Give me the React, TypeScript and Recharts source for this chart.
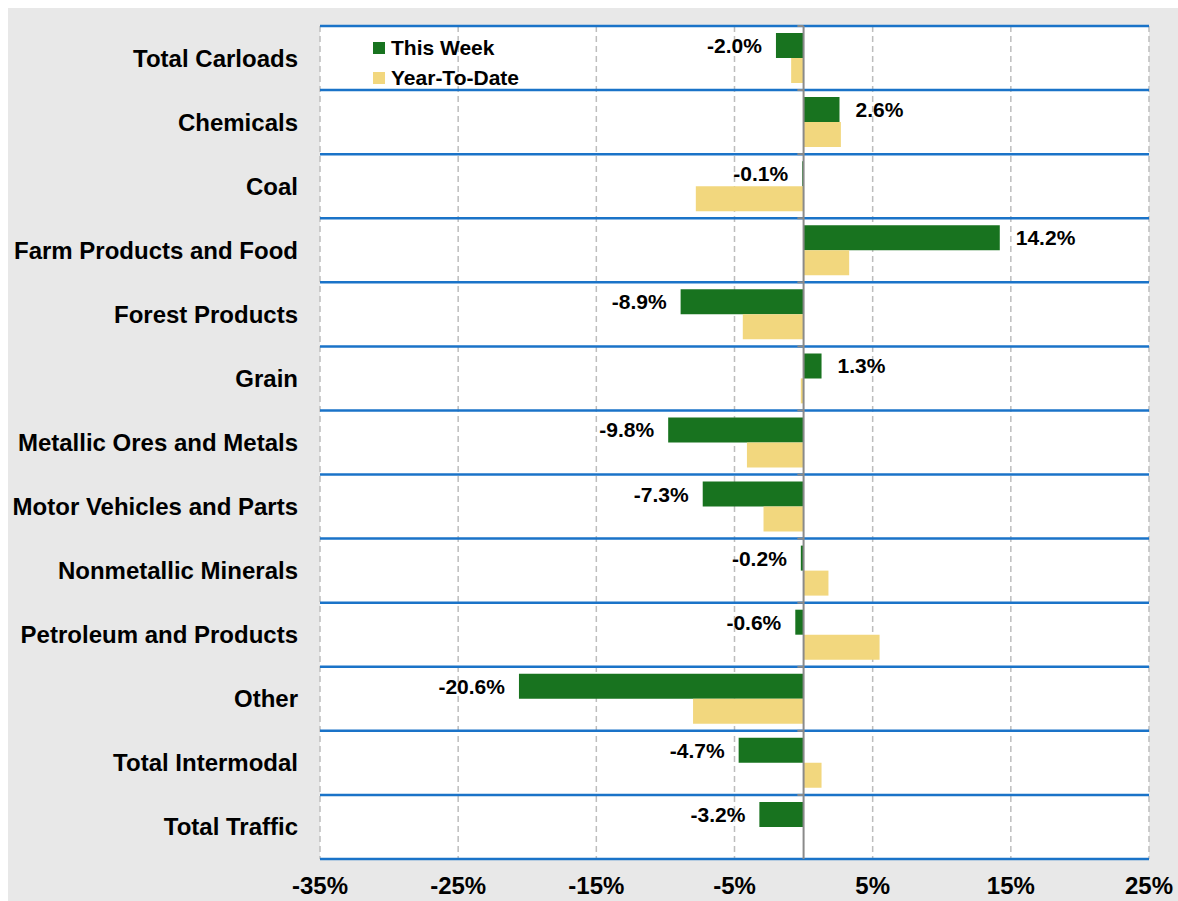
import React from "react";
import {
  BarChart,
  Bar,
  XAxis,
  YAxis,
  CartesianGrid,
  ReferenceLine,
  LabelList,
  Legend,
} from "recharts";

const categories = [
  "Total Carloads",
  "Chemicals",
  "Coal",
  "Farm Products and Food",
  "Forest Products",
  "Grain",
  "Metallic Ores and Metals",
  "Motor Vehicles and Parts",
  "Nonmetallic Minerals",
  "Petroleum and Products",
  "Other",
  "Total Intermodal",
  "Total Traffic",
];
const thisWeek = [-2.0, 2.6, -0.1, 14.2, -8.9, 1.3, -9.8, -7.3, -0.2, -0.6, -20.6, -4.7, -3.2];
const yearToDate = [-0.9, 2.7, -7.8, 3.3, -4.4, -0.2, -4.1, -2.9, 1.8, 5.5, -8.0, 1.3, 0];
const xTicks = [-35, -25, -15, -5, 5, 15, 25];

const GREEN = "#18731f";
const YELLOW = "#f2d77e";
const BLUE = "#1a73c8";
const FONT = "'Liberation Sans', Arial, Helvetica, sans-serif";

const data = categories.map((name, i) => ({
  name,
  week: thisWeek[i],
  ytd: yearToDate[i],
}));

const lastCat = categories[categories.length - 1];

const WeekLabel = (props: any) => {
  const { x, y, width, height, value } = props;
  const a = Number(x);
  const b = Number(x) + Number(width);
  const neg = value < 0;
  const end = neg ? Math.min(a, b) : Math.max(a, b);
  return (
    <text
      x={neg ? end - 14 : end + 16}
      y={Number(y) + Number(height) / 2}
      textAnchor={neg ? "end" : "start"}
      dominantBaseline="central"
      fontFamily={FONT}
      fontWeight="bold"
      fontSize={21}
      fill="#000"
    >
      {Number(value).toFixed(1)}%
    </text>
  );
};

const LegendBox = () => (
  <div style={{ fontFamily: FONT, fontWeight: "bold", fontSize: 21, color: "#000" }}>
    {[
      { label: "This Week", color: GREEN },
      { label: "Year-To-Date", color: YELLOW },
    ].map((it) => (
      <div key={it.label} style={{ display: "flex", alignItems: "center", height: 30 }}>
        <span style={{ width: 12, height: 12, background: it.color, marginRight: 6, display: "inline-block" }} />
        <span>{it.label}</span>
      </div>
    ))}
  </div>
);

export default function App() {
  return (
    <div
      style={{
        position: "fixed",
        left: 8,
        top: 8,
        width: 1170,
        height: 893,
        background: "#e8e8e8",
        overflow: "hidden",
      }}
    >
      <BarChart
        width={1170}
        height={893}
        data={data}
        layout="vertical"
        margin={{ top: 18, right: 29, bottom: 0, left: 0 }}
        barGap={0}
      >
        <CartesianGrid
          horizontal={false}
          fill="#ffffff"
          stroke="#bdbdbd"
          strokeDasharray="6 4"
          strokeWidth={1.5}
        />
        <XAxis
          type="number"
          domain={[-35, 25]}
          ticks={xTicks}
          tickFormatter={(v) => `${v}%`}
          axisLine={false}
          tickLine={false}
          tickSize={0}
          tickMargin={18}
          height={42}
          interval={0}
          tick={{ fill: "#000", fontSize: 24, fontWeight: "bold", fontFamily: FONT }}
        />
        <YAxis
          type="category"
          dataKey="name"
          width={312}
          axisLine={false}
          tickLine={false}
          tickSize={0}
          tickMargin={22}
          interval={0}
          tick={{ fill: "#000", fontSize: 24, fontWeight: "bold", fontFamily: FONT }}
        />
        {categories.map((c) => (
          <ReferenceLine key={`h${c}`} y={c} position="start" stroke={BLUE} strokeWidth={2.5} />
        ))}
        <ReferenceLine y={lastCat} position="end" stroke={BLUE} strokeWidth={2.5} />
        <ReferenceLine x={0} stroke="#8a8a8a" strokeWidth={2} />
        {categories.map((c) => (
          <ReferenceLine
            key={`t${c}`}
            position="start"
            segment={[
              { x: -0.45, y: c },
              { x: 0, y: c },
            ]}
            stroke="#8a8a8a"
            strokeWidth={2}
          />
        ))}
        <Legend
          layout="horizontal"
          verticalAlign="middle"
          align="center"
          wrapperStyle={{ top: 25, left: 365, width: "auto" }}
          content={<LegendBox />}
        />
        <Bar dataKey="week" name="This Week" fill={GREEN} barSize={25} isAnimationActive={false}>
          <LabelList dataKey="week" content={<WeekLabel />} />
        </Bar>
        <Bar dataKey="ytd" name="Year-To-Date" fill={YELLOW} barSize={25} isAnimationActive={false} />
      </BarChart>
    </div>
  );
}
